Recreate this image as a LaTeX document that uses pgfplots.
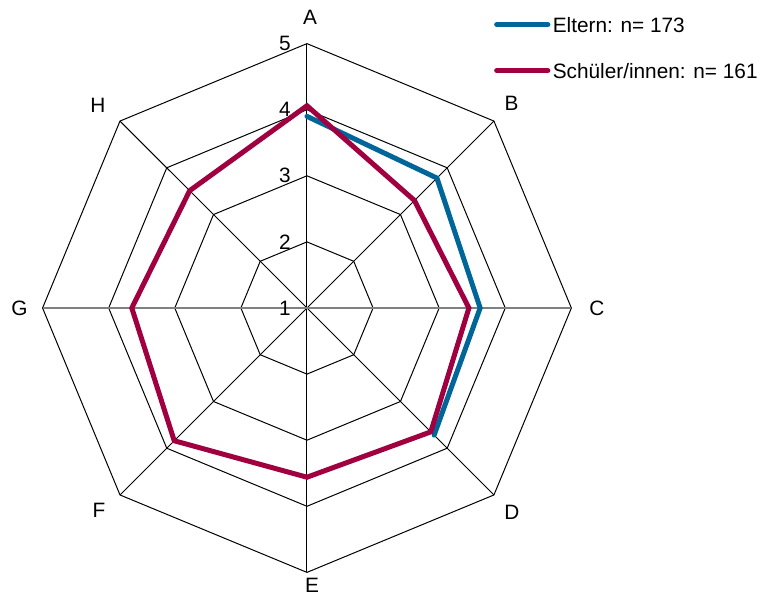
\documentclass[border=0pt]{standalone}
\usepackage{pgfplots}
\pgfplotsset{compat=1.18}
\usepackage{pgfplotstable}
\usepackage{fontspec}
\setmainfont{Liberation Sans}
\definecolor{elternblue}{RGB}{0,102,153}
\definecolor{schuelerred}{RGB}{160,0,64}
\definecolor{axisgray}{RGB}{128,128,128}

% angle (deg), value (scale 1..5)
\pgfplotstableread{
a v
90 3.90
45 3.78
0 3.62
-45 3.72
}\tabEltern
\pgfplotstableread{
a v
90 4.06
45 3.30
0 3.45
-45 3.65
-90 3.56
-135 3.84
180 3.65
135 3.51
}\tabSchueler

\begin{document}
\fontsize{10.4}{12.5}\selectfont
\begin{tikzpicture}
\begin{axis}[
  width=385pt, height=298pt, scale only axis,
  xmin=-4.644, xmax=7.005, ymin=-4.357, ymax=4.660,
  hide axis, clip=false,
  legend cell align=left,
  legend style={at={(axis cs:2.832,4.401)}, anchor=north west, draw=none, fill=none,
    inner sep=0pt, outer sep=0pt, nodes={inner sep=0pt, text depth=0pt},
    row sep=15.4pt, column sep=1.2pt},
  legend image code/.code={\draw[#1, line cap=round] (0pt,0pt) -- (25.6pt,0pt);},
]
\coordinate (bbsw) at (rel axis cs:0,0);
\coordinate (bbne) at (rel axis cs:1,1);
% rings
\pgfplotsinvokeforeach{1,2,3,4}{
  \draw[black, line width=0.5pt] (axis cs:0,#1) -- (axis cs:{0.70711*#1},{0.70711*#1}) -- (axis cs:#1,0)
    -- (axis cs:{0.70711*#1},{-0.70711*#1}) -- (axis cs:0,{-#1}) -- (axis cs:{-0.70711*#1},{-0.70711*#1})
    -- (axis cs:{-#1},0) -- (axis cs:{-0.70711*#1},{0.70711*#1}) -- cycle;
}
% spokes
\draw[black, line width=0.5pt] (axis cs:0,-4) -- (axis cs:0,4);
\draw[black, line width=0.5pt] (axis cs:-2.8284,-2.8284) -- (axis cs:2.8284,2.8284);
\draw[black, line width=0.5pt] (axis cs:-2.8284,2.8284) -- (axis cs:2.8284,-2.8284);
\draw[axisgray, line width=1pt] (axis cs:-4,0) -- (axis cs:4,0);

\addplot[elternblue, line width=2.5pt, line join=miter, line cap=round, no markers]
  table[x expr={(\thisrow{v}-1)*cos(\thisrow{a})}, y expr={(\thisrow{v}-1)*sin(\thisrow{a})}] {\tabEltern};
\addlegendentry{Eltern: n= 173}
\addplot[schuelerred, line width=2.5pt, line join=miter, no markers]
  table[x expr={(\thisrow{v}-1)*cos(\thisrow{a})}, y expr={(\thisrow{v}-1)*sin(\thisrow{a})}] {\tabSchueler} -- cycle;
\addlegendentry{Schüler/innen: n= 161}

% scale labels
\node[anchor=east, inner sep=0pt] at (axis cs:-0.24,0) {1};
\node[anchor=east, inner sep=0pt] at (axis cs:-0.24,1) {2};
\node[anchor=east, inner sep=0pt] at (axis cs:-0.24,2) {3};
\node[anchor=east, inner sep=0pt] at (axis cs:-0.24,3) {4};
\node[anchor=east, inner sep=0pt] at (axis cs:-0.24,4) {5};
% category labels
\node[inner sep=0pt] at (axis cs:0.045,4.40) {A};
\node[inner sep=0pt] at (axis cs:3.094,3.094) {B};
\node[inner sep=0pt] at (axis cs:4.387,0) {C};
\node[inner sep=0pt] at (axis cs:3.101,-3.086) {D};
\node[inner sep=0pt] at (axis cs:0.076,-4.19) {E};
\node[inner sep=0pt] at (axis cs:-3.147,-3.056) {F};
\node[inner sep=0pt] at (axis cs:-4.35,0) {G};
\node[inner sep=0pt] at (axis cs:-3.162,3.071) {H};
\end{axis}
\pgfresetboundingbox
\path (bbsw) rectangle (bbne);
\end{tikzpicture}
\end{document}
